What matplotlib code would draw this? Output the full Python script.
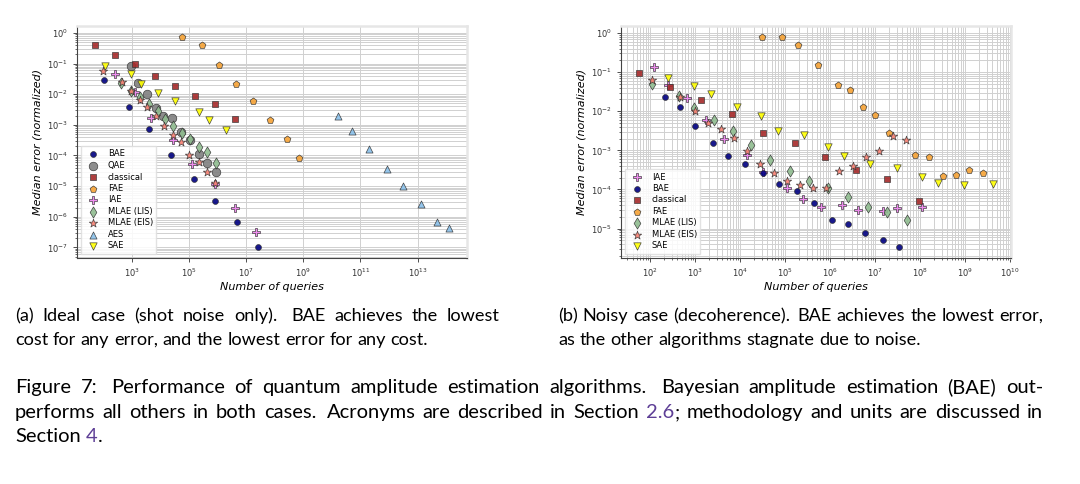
import numpy as np
import matplotlib
matplotlib.use("Agg")
import matplotlib.pyplot as plt
from matplotlib.ticker import FixedLocator, LogLocator, NullLocator, NullFormatter
from matplotlib.transforms import IdentityTransform

# ---- data (number of queries, median error) ----
# (a) ideal case
ideal_bae_x = [1.05e2, 7.4e2, 3.8e3, 2.3e4, 1.4e5, 7.9e5, 4.7e6, 2.5e7]
ideal_bae_y = [3.0e-2, 3.7e-3, 7.2e-4, 1.0e-4, 1.7e-5, 3.2e-6, 6.6e-7, 1.0e-7]
ideal_qae_x = [8.9e2, 1.55e3, 3.2e3, 6.5e3, 1.23e4, 2.45e4, 5.1e4, 1.02e5, 2.2e5, 4.3e5, 8.7e5]
ideal_qae_y = [8.6e-2, 2.3e-2, 1.0e-2, 3.5e-3, 2.0e-3, 1.7e-3, 6.0e-4, 3.1e-4, 1.1e-4, 5.8e-5, 2.9e-5]
ideal_cls_x = [4.8e1, 2.45e2, 1.23e3, 6.0e3, 3.1e4, 1.6e5, 7.9e5, 3.9e6]
ideal_cls_y = [4.0e-1, 1.9e-1, 1.0e-1, 4.0e-2, 1.8e-2, 8.5e-3, 4.7e-3, 1.5e-3]
ideal_fae_x = [5.6e4, 2.7e5, 1.07e6, 4.3e6, 1.66e7, 6.8e7, 2.6e8, 7.1e8]
ideal_fae_y = [7.6e-1, 4.0e-1, 9.3e-2, 2.1e-2, 5.8e-3, 1.4e-3, 3.5e-4, 8.5e-5]
ideal_iae_x = [2.45e2, 1.23e3, 4.5e3, 2.7e4, 1.2e5, 7.9e5, 3.9e6, 2.1e7]
ideal_iae_y = [4.4e-2, 1.2e-2, 1.7e-3, 3.1e-4, 5.4e-5, 1.2e-5, 1.9e-6, 3.3e-7]
ideal_lis_x = [4.0e2, 8.9e2, 1.86e3, 3.8e3, 8.1e3, 1.45e4, 2.75e4, 5.4e4, 1.05e5, 2.1e5, 4.3e5, 8.7e5]
ideal_lis_y = [2.3e-2, 1.3e-2, 7.9e-3, 4.8e-3, 2.8e-3, 1.6e-3, 8.9e-4, 5.4e-4, 3.5e-4, 1.95e-4, 1.3e-4, 5.6e-5]
ideal_eis_x = [9.5e1, 4.3e2, 8.7e2, 1.8e3, 3.4e3, 6.8e3, 1.3e4, 2.6e4, 5.1e4, 1.0e5, 2.1e5, 4.1e5, 7.9e5]
ideal_eis_y = [5.9e-2, 2.5e-2, 1.3e-2, 6.5e-3, 3.8e-3, 2.0e-3, 9.5e-4, 4.8e-4, 2.7e-4, 1.0e-4, 6.0e-5, 2.9e-5, 1.26e-5]
ideal_aes_x = [1.6e10, 5.2e10, 2.0e11, 8.3e11, 3.2e12, 1.3e13, 4.9e13, 1.3e14]
ideal_aes_y = [1.9e-3, 6.3e-4, 1.6e-4, 3.7e-5, 1.0e-5, 2.7e-6, 6.6e-7, 4.2e-7]
ideal_sae_x = [1.1e2, 8.9e2, 1.95e3, 7.8e3, 3.2e4, 2.2e5, 5.0e5, 2.0e6]
ideal_sae_y = [8.3e-2, 4.4e-2, 2.2e-2, 1.1e-2, 5.8e-3, 2.7e-3, 1.4e-3, 6.8e-4]

# (b) noisy case
noisy_iae_x = [1.23e2, 2.45e2, 6.6e2, 1.74e3, 4.4e3, 1.4e4, 3.2e4, 1.07e5, 2.5e5, 6.3e5, 1.86e6, 4.1e6, 1.5e7, 3.0e7, 1.1e8]
noisy_iae_y = [1.35e-1, 4.6e-2, 2.2e-2, 5.9e-3, 2.0e-3, 7.6e-4, 2.8e-4, 1.07e-4, 5.6e-5, 3.6e-5, 4.0e-5, 3.0e-5, 2.8e-5, 3.3e-5, 3.6e-5]
noisy_bae_x = [2.1e2, 4.6e2, 1.0e3, 2.45e3, 5.4e3, 1.26e4, 3.2e4, 7.4e4, 1.8e5, 4.4e5, 1.07e6, 2.5e6, 6.0e6, 1.5e7, 3.4e7]
noisy_bae_y = [2.3e-2, 1.3e-2, 4.2e-3, 1.55e-3, 7.1e-4, 4.6e-4, 2.6e-4, 1.4e-4, 9.1e-5, 4.5e-5, 1.66e-5, 1.3e-5, 7.6e-6, 5.1e-6, 3.3e-6]
noisy_cls_x = [5.5e1, 2.7e2, 1.35e3, 6.6e3, 3.2e4, 1.6e5, 7.6e5, 3.8e6, 1.86e7, 9.3e7]
noisy_cls_y = [9.5e-2, 4.2e-2, 1.95e-2, 8.3e-3, 2.7e-3, 1.5e-3, 6.8e-4, 3.1e-4, 1.8e-4, 5.2e-5]
noisy_fae_x = [3.1e4, 8.3e4, 1.95e5, 5.4e5, 1.45e6, 2.7e6, 5.2e6, 1.0e7, 2.0e7, 7.8e7, 1.6e8, 3.2e8, 6.2e8, 1.23e9, 2.45e9]
noisy_fae_y = [7.8e-1, 8.1e-1, 5.0e-1, 1.5e-1, 4.8e-2, 3.5e-2, 1.3e-2, 7.8e-3, 2.7e-3, 7.4e-4, 6.8e-4, 2.2e-4, 2.4e-4, 3.2e-4, 2.7e-4]
noisy_lis_x = [1.1e2, 4.3e2, 9.5e2, 2.6e3, 6.8e3, 1.74e4, 4.6e4, 1.26e5, 3.4e5, 8.9e5, 2.45e6, 6.8e6, 1.86e7, 5.0e7]
noisy_lis_y = [5.0e-2, 2.4e-2, 1.2e-2, 6.0e-3, 3.2e-3, 1.35e-3, 5.6e-4, 3.0e-4, 1.6e-4, 1.07e-4, 6.5e-5, 3.5e-5, 2.6e-5, 1.66e-5]
noisy_eis_x = [1.1e2, 4.5e2, 9.8e2, 1.9e3, 3.7e3, 7.1e3, 1.4e4, 2.75e4, 5.5e4, 1.07e5, 2.1e5, 4.2e5, 8.1e5, 1.6e6, 3.2e6, 6.3e6, 1.23e7, 2.5e7, 4.9e7]
noisy_eis_y = [6.2e-2, 2.3e-2, 1.0e-2, 5.0e-3, 3.6e-3, 2.1e-3, 9.8e-4, 4.6e-4, 2.6e-4, 1.6e-4, 1.3e-4, 1.07e-4, 1.07e-4, 3.0e-4, 4.0e-4, 6.6e-4, 9.8e-4, 2.3e-3, 1.8e-3]
noisy_sae_x = [2.4e2, 9.3e2, 2.2e3, 8.5e3, 2.9e4, 6.8e4, 2.6e5, 9.1e5, 2.0e6, 7.8e6, 3.0e7, 1.1e8, 2.45e8, 9.5e8, 4.2e9]
noisy_sae_y = [7.1e-2, 4.3e-2, 2.7e-2, 1.3e-2, 7.6e-3, 3.2e-3, 2.45e-3, 1.23e-3, 7.2e-4, 4.4e-4, 3.5e-4, 2.1e-4, 1.5e-4, 1.3e-4, 1.4e-4]

# marker styles per algorithm
styles = {
    "BAE": dict(marker="o", c="navy", s=18),
    "QAE": dict(marker="o", c="gray", s=38),
    "classical": dict(marker="s", c="#a52a2a", s=18),
    "FAE": dict(marker="p", c="#f5a235", s=26),
    "IAE": dict(marker="P", c="violet", s=32),
    "MLAE (LIS)": dict(marker="d", c="darkseagreen", s=32),
    "MLAE (EIS)": dict(marker="*", c="salmon", s=40),
    "AES": dict(marker="^", c="#88bfe9", s=26),
    "SAE": dict(marker="v", c="yellow", s=28),
}

ideal = [
    ("BAE", ideal_bae_x, ideal_bae_y),
    ("QAE", ideal_qae_x, ideal_qae_y),
    ("classical", ideal_cls_x, ideal_cls_y),
    ("FAE", ideal_fae_x, ideal_fae_y),
    ("IAE", ideal_iae_x, ideal_iae_y),
    ("MLAE (LIS)", ideal_lis_x, ideal_lis_y),
    ("MLAE (EIS)", ideal_eis_x, ideal_eis_y),
    ("AES", ideal_aes_x, ideal_aes_y),
    ("SAE", ideal_sae_x, ideal_sae_y),
]
noisy = [
    ("IAE", noisy_iae_x, noisy_iae_y),
    ("BAE", noisy_bae_x, noisy_bae_y),
    ("classical", noisy_cls_x, noisy_cls_y),
    ("FAE", noisy_fae_x, noisy_fae_y),
    ("MLAE (LIS)", noisy_lis_x, noisy_lis_y),
    ("MLAE (EIS)", noisy_eis_x, noisy_eis_y),
    ("SAE", noisy_sae_x, noisy_sae_y),
]

W, H = 1080, 484
fig = plt.figure(figsize=(W / 100, H / 100), dpi=100)
fig.patch.set_facecolor("white")


def make_axes(left_px, series, xticks):
    ax = fig.add_axes([left_px / W, 1 - 258 / H, 390 / W, 232 / H])
    for name, xs, ys in series:
        st = styles[name]
        ax.scatter(xs, ys, label=name, edgecolors="#333333", linewidths=0.5,
                   alpha=0.9, **st)
    ax.set_xscale("log")
    ax.set_yscale("log")
    ax.xaxis.set_major_locator(FixedLocator(xticks))
    ax.yaxis.set_major_locator(LogLocator(base=10, numticks=30))
    ax.yaxis.set_minor_locator(LogLocator(base=10, subs=np.arange(2, 10), numticks=30))
    ax.yaxis.set_minor_formatter(NullFormatter())
    ax.grid(True, which="both", color="#d0d0d0", lw=0.7)
    ax.set_axisbelow(True)
    ax.tick_params(which="major", labelsize=6, length=3, width=0.6, colors="#333333")
    ax.tick_params(which="minor", length=1.5, width=0.5, colors="#333333")
    for side in ["left", "bottom"]:
        ax.spines[side].set_color("#444444")
        ax.spines[side].set_linewidth(0.8)
    for side in ["top", "right"]:
        ax.spines[side].set_color("#e6e6e6")
        ax.spines[side].set_linewidth(1.8)
    ax.set_xlabel("Number of queries", fontsize=8, style="italic", labelpad=2)
    ax.set_ylabel("Median error (normalized)", fontsize=8, style="italic", labelpad=3)
    ax.legend(loc="lower left", fontsize=6, labelspacing=0.3,
              borderaxespad=0.5, scatterpoints=1, framealpha=0.85,
              edgecolor="#dddddd", fancybox=False)
    return ax


ax1 = make_axes(77, ideal, [1e3, 1e5, 1e7, 1e9, 1e11, 1e13])
ax1.xaxis.set_minor_locator(NullLocator())

ax2 = make_axes(621, noisy, [10.0 ** k for k in range(2, 11)])
ax2.xaxis.set_minor_locator(LogLocator(base=10, subs=np.arange(2, 10), numticks=30))
ax2.xaxis.set_minor_formatter(NullFormatter())

# ---- captions, word by word so the lines can be justified like LaTeX ----
CAP_FONT = "Lato"
LINK = "#5e3f96"
renderer = fig.canvas.get_renderer()


def text_w(s, size):
    t = fig.text(0, 0, s, fontsize=size, family=CAP_FONT)
    w = t.get_window_extent(renderer).width
    t.remove()
    return w


def parse(line):
    words = []
    for w in line.split():
        segs = []
        parts = w.replace("}", "{").split("{")
        for i, p in enumerate(parts):
            if p:
                segs.append((p, LINK if i % 2 == 1 else "black"))
        words.append(segs)
    return words


def gap_weight(word):
    return 1.5 if word[-1][0].endswith((".", ":")) else 1.0


def natural_width(line, size):
    words = parse(line)
    sp = text_w("a a", size) - text_w("aa", size)
    ws = [sum(text_w(t, size) for t, _ in w) for w in words]
    return sum(ws) + sum(sp * gap_weight(w) for w in words[:-1])


def put_line(line, x0, base, size, x1=None):
    words = parse(line)
    ws = [[text_w(t, size) for t, _ in w] for w in words]
    total = sum(sum(w) for w in ws)
    weights = [gap_weight(w) for w in words[:-1]]
    if x1 is None:
        unit = text_w("a a", size) - text_w("aa", size)
        weights = [1.0] * len(weights)
    else:
        unit = (x1 - x0 - total) / sum(weights)
    x = x0
    y = H - base  # whole pixel baseline, from the bottom
    for i, w in enumerate(words):
        for (t, c), wd in zip(w, ws[i]):
            fig.text(x, y, t, fontsize=size, family=CAP_FONT, color=c,
                     va="baseline", ha="left", transform=IdentityTransform())
            x += wd
        if i < len(weights):
            x += unit * weights[i]


sub_a = ["(a) Ideal case (shot noise only). BAE achieves the lowest",
         "cost for any error, and the lowest error for any cost."]
sub_b = ["(b) Noisy case (decoherence). BAE achieves the lowest error,",
         "as the other algorithms stagnate due to noise."]
cap = ["Figure 7: Performance of quantum amplitude estimation algorithms. Bayesian amplitude estimation (BAE) out-",
       "performs all others in both cases. Acronyms are described in Section {2.6}; methodology and units are discussed in",
       "Section {4}."]

sub_size = 10 * 415 / natural_width(sub_a[1], 10)
cap_size = 10 * 0.97 * 1028 / natural_width(cap[1], 10)

put_line(sub_a[0], 15, 321, sub_size, 500)
put_line(sub_a[1], 15, 345, sub_size)
put_line(sub_b[0], 558, 321, sub_size, 1043)
put_line(sub_b[1], 558, 345, sub_size)
put_line(cap[0], 15, 393, cap_size, 1043)
put_line(cap[1], 15, 418, cap_size, 1043)
put_line(cap[2], 15, 442, cap_size)

fig.savefig("out.png", dpi=100)
